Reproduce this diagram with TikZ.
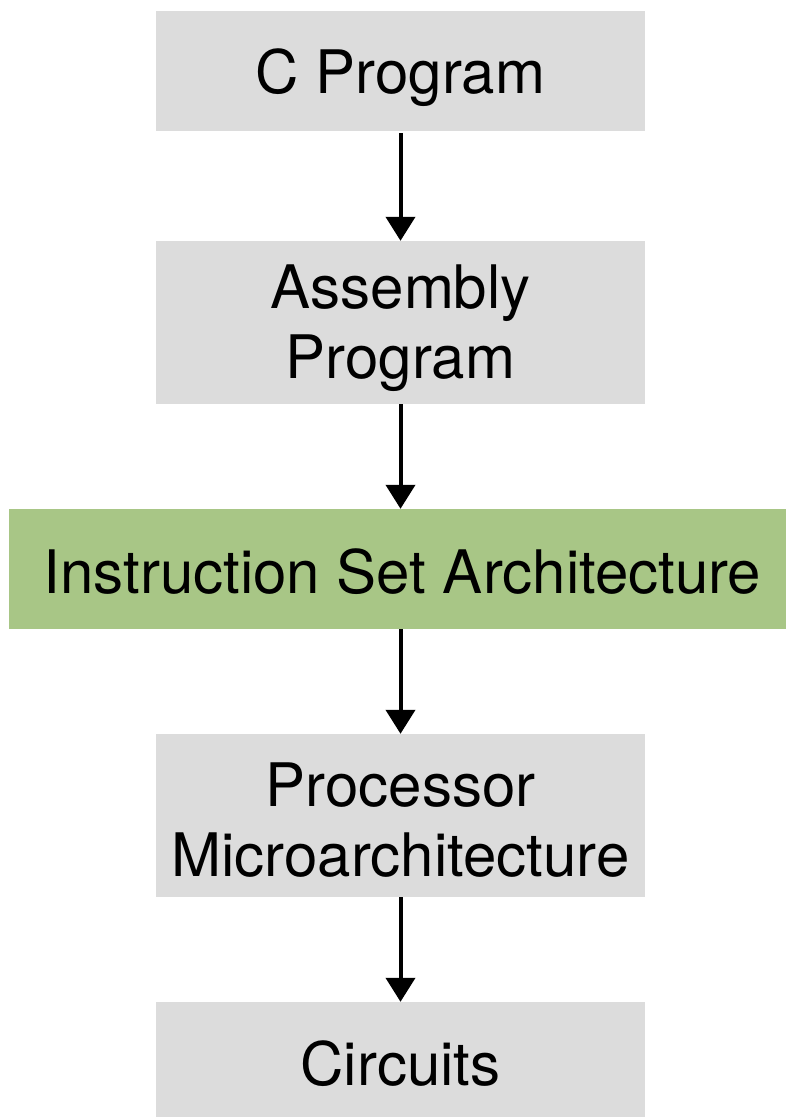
\documentclass[tikz,border=0pt]{standalone}
\usepackage{fontspec}
\setmainfont{TeX Gyre Heros}
\usetikzlibrary{arrows.meta}
\definecolor{boxgray}{HTML}{DCDCDC}
\definecolor{boxgreen}{HTML}{A8C686}
\begin{document}
\begin{tikzpicture}[x=1pt,y=-1pt,
  layer/.style={rectangle, fill=boxgray, inner sep=0pt, minimum width=489pt},
  txt/.style={align=center, inner sep=0pt, font=\fontsize{60}{70}\selectfont},
  flow/.style={line width=4pt, -{Triangle[width=29pt,length=24pt]}, black}]
\useasboundingbox (0,0) rectangle (786,1117);
\node[layer, minimum height=120pt,
  label={[txt, yshift=-7pt]center:C Program}] (c) at (400.5,71) {};
\node[layer, minimum height=163pt,
  label={[txt, yshift=-6pt]center:Assembly\\Program}] (asm) at (400.5,322.5) {};
\node[layer, fill=boxgreen, minimum width=777pt, minimum height=120pt,
  label={[txt, yshift=-3pt, xshift=5pt]center:Instruction Set Architecture}] (isa) at (397.5,569) {};
\node[layer, minimum height=163pt,
  label={[txt, yshift=-5pt]center:Processor\\Microarchitecture}] (proc) at (400.5,815.5) {};
\node[layer, minimum height=115pt,
  label={[txt, yshift=-4pt]center:Circuits}] (circ) at (400.5,1059.5) {};
\draw[flow] ([yshift=-2pt]c.south -| 400.5,0) -- (asm.north -| 400.5,0);
\draw[flow] (asm.south -| 400.5,0) -- (isa.north -| 400.5,0);
\draw[flow] (isa.south -| 400.5,0) -- (proc.north -| 400.5,0);
\draw[flow] (proc.south -| 400.5,0) -- (circ.north -| 400.5,0);
\end{tikzpicture}
\end{document}
